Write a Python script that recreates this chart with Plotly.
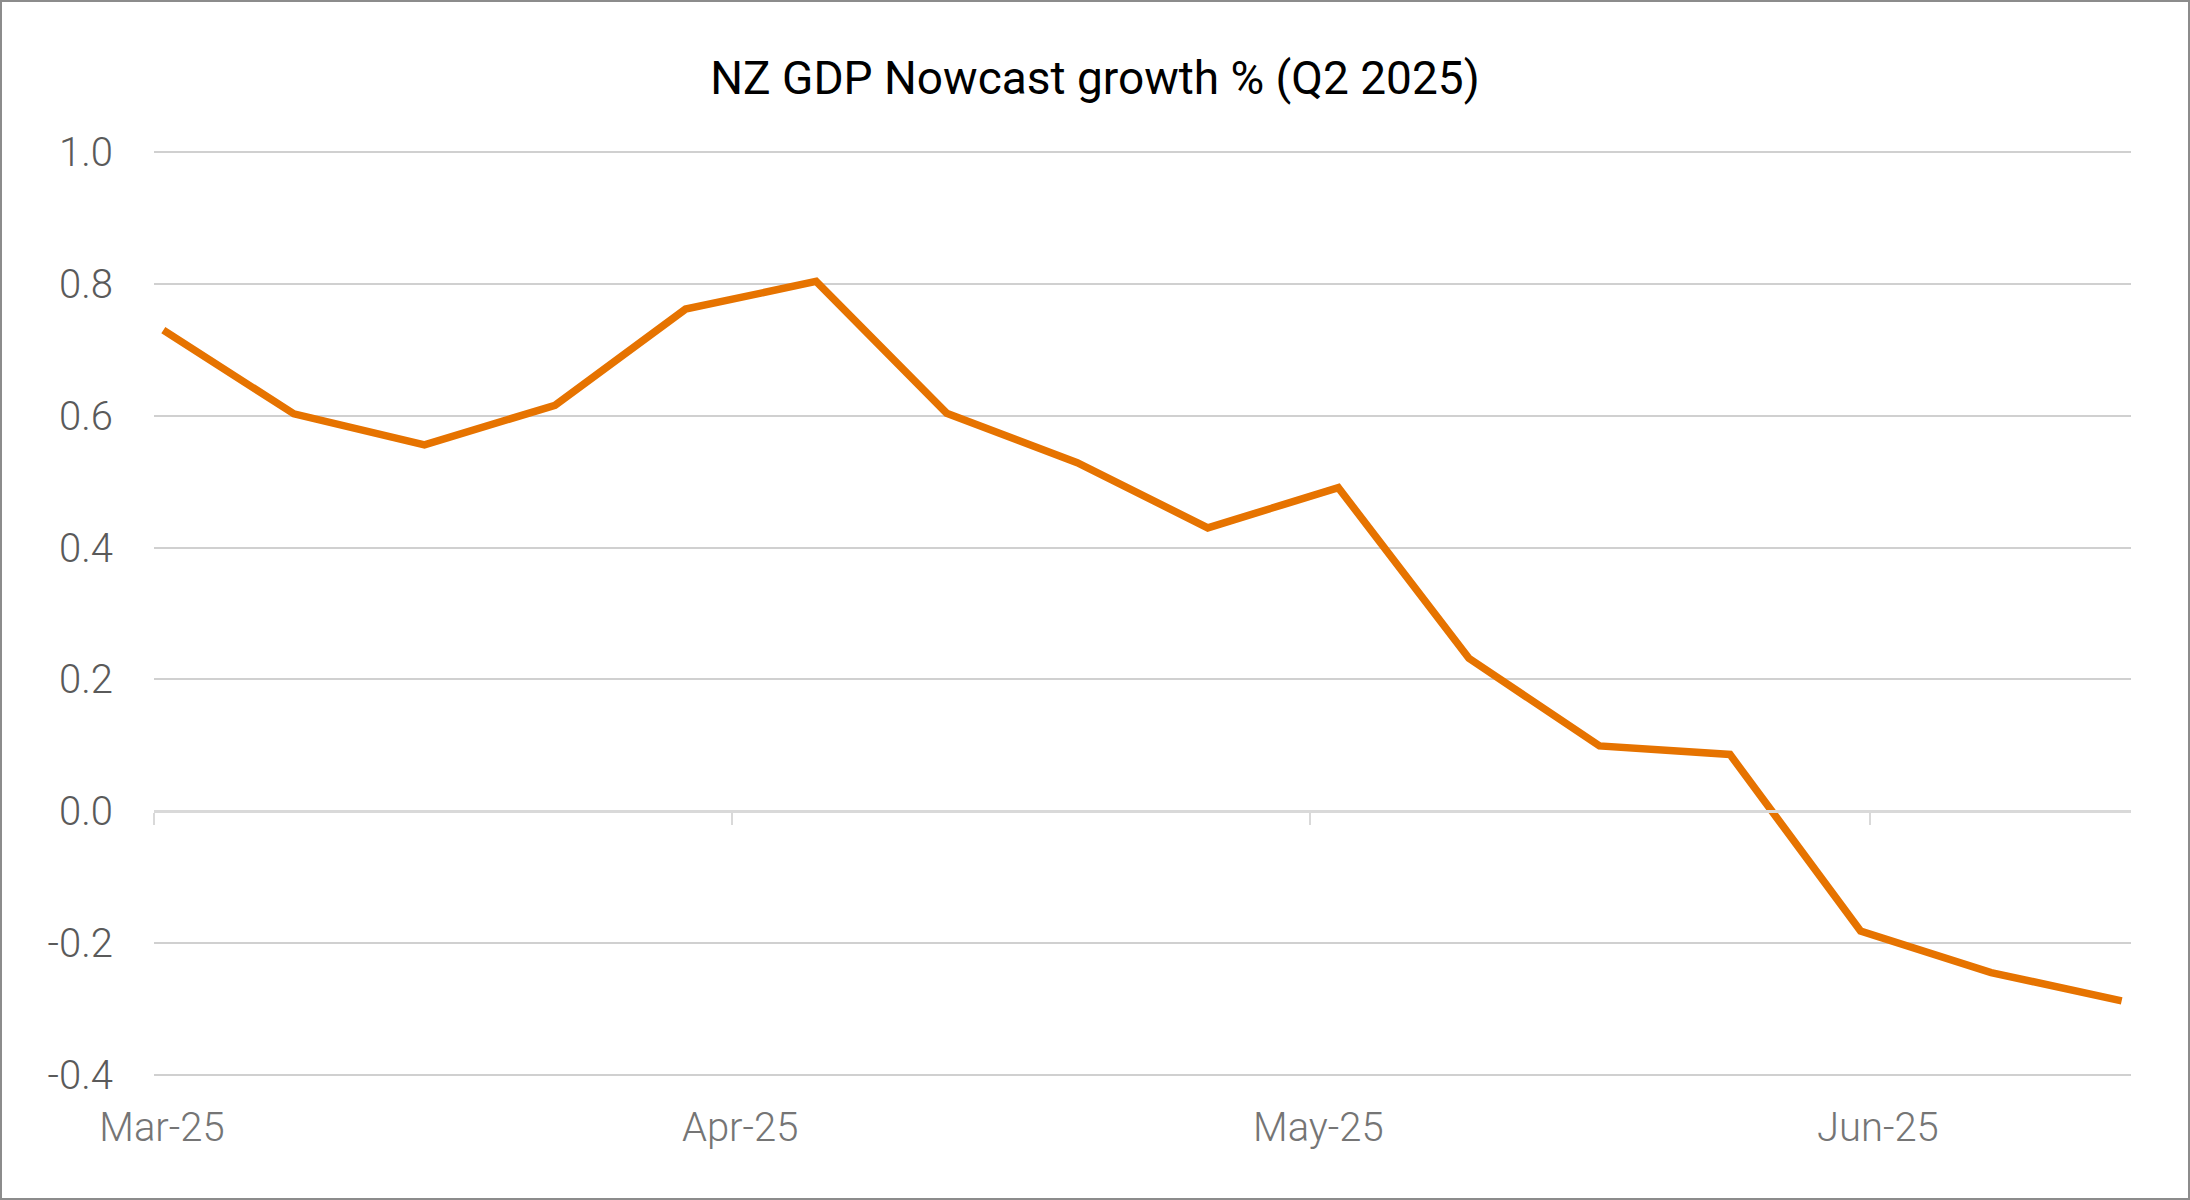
import pandas as pd
import plotly.graph_objects as go

# ---- data ----
dates = ["2025-03-01", "2025-03-08", "2025-03-15", "2025-03-22", "2025-03-29",
         "2025-04-05", "2025-04-12", "2025-04-19", "2025-04-26", "2025-05-03",
         "2025-05-10", "2025-05-17", "2025-05-24", "2025-05-31", "2025-06-07",
         "2025-06-14"]
growth = [0.730, 0.603, 0.556, 0.616, 0.762, 0.804, 0.604, 0.529, 0.430, 0.491,
          0.232, 0.099, 0.086, -0.182, -0.245, -0.288]
tick_dates = ["2025-03-01", "2025-04-01", "2025-05-02", "2025-06-01"]
tick_labels = ["Mar-25", "Apr-25", "May-25", "Jun-25"]
y_ticks = [-0.4, -0.2, 0.0, 0.2, 0.4, 0.6, 0.8, 1.0]
y_tick_labels = ["-0.4", "-0.2", "0.0", "0.2", "0.4", "0.6", "0.8", "1.0"]
title_text = "NZ GDP Nowcast growth % (Q2 2025)"

# points are centred in their day slot (Excel-style date axis)
x = pd.to_datetime(dates) + pd.Timedelta(hours=12)
x_range = ["2025-03-01", "2025-06-15"]
y_lo, y_hi = -0.4, 1.0
eps = 0.002
y_range = [y_lo - eps, y_hi + eps]

W, H = 2190, 1200
ML, MR, MT, MB = 154, 59, 151, 124
FONT = "Roboto"

fig = go.Figure()
fig.add_trace(go.Scatter(
    x=x, y=growth, mode="lines",
    line=dict(color="#E67300", width=7.5),
    showlegend=False, hoverinfo="x+y",
))
# invisible trace to carry the zero-line axis with ticks
fig.add_trace(go.Scatter(
    x=x, y=growth, xaxis="x2", mode="lines",
    line=dict(color="rgba(0,0,0,0)", width=0),
    showlegend=False, hoverinfo="skip",
))

fig.update_layout(
    width=W, height=H, autosize=False,
    paper_bgcolor="white", plot_bgcolor="white",
    margin=dict(l=ML, r=MR, t=MT, b=MB, pad=0),
    title=dict(text=title_text, x=0.5, xanchor="center", xref="container",
               y=1 - 78 / H, yanchor="middle", yref="container",
               font=dict(family=FONT, size=46, color="#000000")),
    xaxis=dict(type="date", range=x_range, tickvals=tick_dates, ticktext=tick_labels,
               showgrid=False, zeroline=False, showline=False, ticks="",
               tickfont=dict(family=FONT, size=40, color="#757575", weight=300),
               ticklabelshift=8, ticklabelstandoff=24),
    xaxis2=dict(type="date", range=x_range, tickvals=tick_dates, ticktext=tick_labels,
                overlaying="x", anchor="free",
                position=(0 - y_range[0]) / (y_range[1] - y_range[0]),
                showgrid=False, zeroline=False, showline=True, linecolor="#D9D9D9", linewidth=3,
                ticks="outside", ticklen=12, tickwidth=2, tickcolor="#D9D9D9",
                showticklabels=False, side="bottom"),
    yaxis=dict(range=y_range, tickvals=y_ticks, ticktext=y_tick_labels,
               showgrid=True, gridcolor="#D0D0D0", gridwidth=1.5,
               zeroline=False, showline=False, ticks="",
               tickfont=dict(family=FONT, size=40, color="#5A5A5A", weight=300),
               ticklabelstandoff=40),
    shapes=[dict(type="rect", xref="paper", yref="paper",
                 x0=-(ML - 1) / (W - ML - MR), x1=1 + (MR - 1) / (W - ML - MR),
                 y0=-(MB - 1) / (H - MT - MB), y1=1 + (MT - 1) / (H - MT - MB),
                 line=dict(color="#8C8C8C", width=2), fillcolor="rgba(0,0,0,0)",
                 layer="above")],
)

fig.write_html("out.html", config={"displayModeBar": False},
               post_script="document.body.style.margin='0';document.body.style.overflow='hidden';")
